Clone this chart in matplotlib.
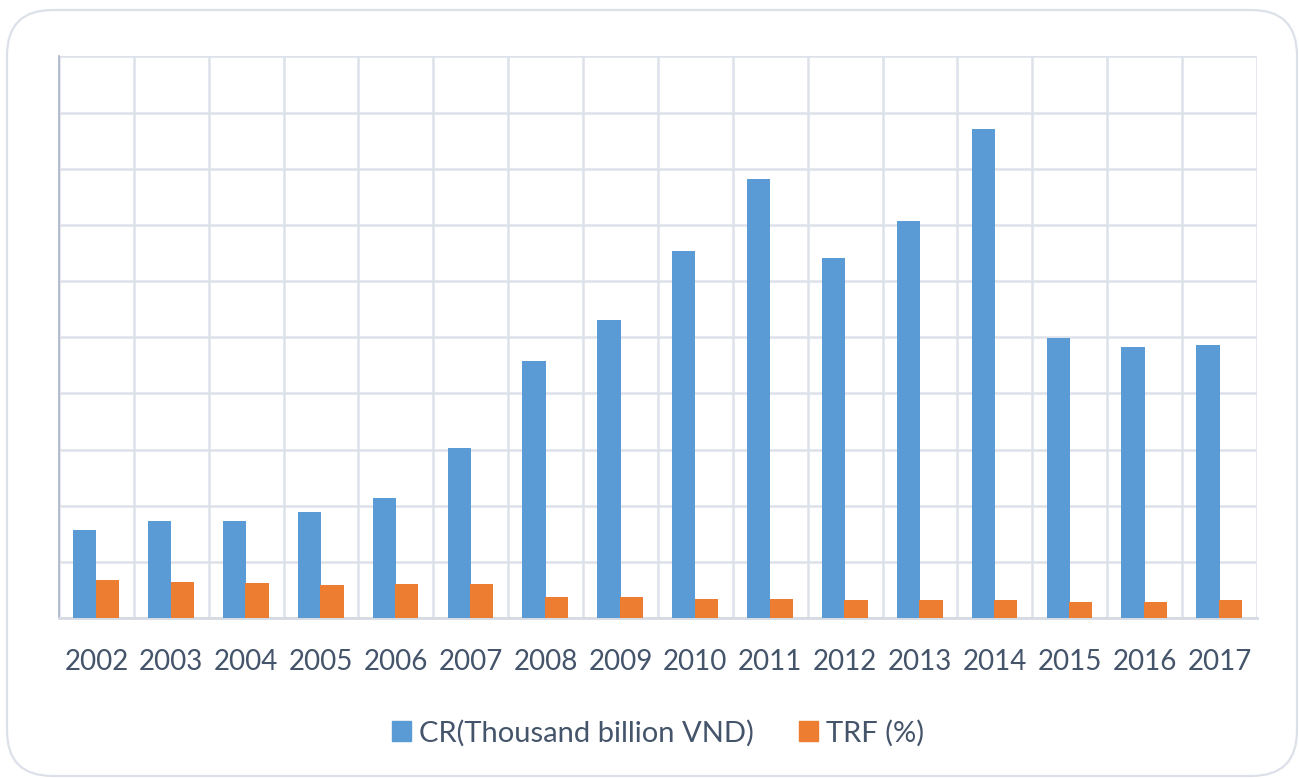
import matplotlib
matplotlib.use("Agg")
import matplotlib.pyplot as plt
from matplotlib.patches import FancyBboxPatch, Patch
import numpy as np

years = ["2002", "2003", "2004", "2005", "2006", "2007", "2008", "2009",
         "2010", "2011", "2012", "2013", "2014", "2015", "2016", "2017"]
cr = [31.3, 34.6, 34.6, 37.8, 42.7, 60.4, 91.6, 106.0,
      130.7, 156.4, 128.3, 141.3, 174.2, 99.6, 96.5, 97.2]
trf = [13.5, 12.8, 12.4, 11.6, 12.0, 12.0, 7.6, 7.6,
       6.9, 6.9, 6.5, 6.4, 6.4, 5.8, 5.8, 6.4]
series_names = ["CR(Thousand billion VND)", "TRF (%)"]

BLUE = "#5B9BD5"
ORANGE = "#ED7D31"
GRID = "#DDE2EA"
TEXT = "#44546A"
FONT = ["Lato", "DejaVu Sans"]

W, H = 1299, 778
fig = plt.figure(figsize=(W / 100, H / 100), dpi=100)
fig.patch.set_facecolor("white")

# rounded outer frame
frame = FancyBboxPatch((7 / W, 2 / H), 1290 / W, 766 / H,
                       boxstyle="round,pad=0,rounding_size=0.035",
                       transform=fig.transFigure, facecolor="none",
                       edgecolor="#DCE1E9", linewidth=1.6, zorder=0,
                       mutation_aspect=W / H)
fig.patches.append(frame)

ax = fig.add_axes([59 / W, 1 - 618 / H, 1198 / W, (618 - 56.5) / H])
x = np.arange(len(years))
bw = 0.31
ax.bar(x - 0.155, cr, width=bw, color=BLUE, zorder=3)
ax.bar(x + 0.145, trf, width=bw, color=ORANGE, zorder=3)

ax.set_xlim(-0.5, len(years) - 0.5)
ax.set_ylim(0, 200)
ax.set_yticks(np.arange(0, 201, 20))
ax.set_yticklabels([])
ax.tick_params(axis="y", length=0)
ax.set_xticks(x)
ax.set_xticklabels(years, fontsize=20, color=TEXT, family=FONT)
ax.tick_params(axis="x", length=0, pad=22)
ax.set_xticks(np.arange(-0.5, len(years), 1), minor=True)
ax.tick_params(axis="x", which="minor", length=0)
ax.grid(True, axis="y", which="major", color=GRID, linewidth=1.8, zorder=0)
ax.grid(True, axis="x", which="minor", color=GRID, linewidth=1.8, zorder=0)
ax.grid(False, axis="x", which="major")
for s in ["top", "right"]:
    ax.spines[s].set_visible(False)
ax.spines["left"].set_color("#A9B4C8")
ax.spines["left"].set_linewidth(1.2)
ax.spines["bottom"].set_color("#D5DAE3")
ax.spines["bottom"].set_linewidth(2.0)

handles = [Patch(facecolor=BLUE, edgecolor=BLUE), Patch(facecolor=ORANGE, edgecolor=ORANGE)]
fig.legend(handles, series_names, loc="center", bbox_to_anchor=(658 / W, 1 - 733 / H),
           ncol=2, frameon=False, prop={"family": FONT, "size": 21},
           labelcolor=TEXT, handlelength=0.65, handleheight=0.65,
           handletextpad=0.28, columnspacing=1.55)

fig.savefig("out.png", dpi=100, facecolor="white")
